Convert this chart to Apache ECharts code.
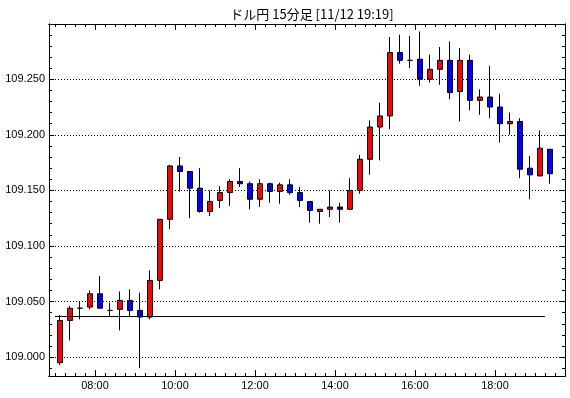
<!DOCTYPE html>
<html>
<head>
<meta charset="utf-8">
<script src="https://cdn.jsdelivr.net/npm/echarts@6/dist/echarts.min.js"></script>
<style>
    html, body { margin: 0; padding: 0; background: #fff; }
    #chart { width: 570px; height: 398px; }
</style>
</head>
<body>
<div id="chart"></div>
<script>
    // 15分足 (start time of each bar)
    const times = ['07:00','07:15','07:30','07:45','08:00','08:15','08:30','08:45','09:00','09:15',
        '09:30','09:45','10:00','10:15','10:30','10:45','11:00','11:15','11:30','11:45',
        '12:00','12:15','12:30','12:45','13:00','13:15','13:30','13:45','14:00','14:15',
        '14:30','14:45','15:00','15:15','15:30','15:45','16:00','16:15','16:30','16:45',
        '17:00','17:15','17:30','17:45','18:00','18:15','18:30','18:45','19:00','19:15'];
    const opens = [108.995,109.033,109.044,109.045,109.057,109.042,109.043,109.051,109.042,109.036,
        109.069,109.124,109.172,109.167,109.152,109.131,109.141,109.148,109.158,109.156,
        109.142,109.156,109.149,109.155,109.148,109.140,109.131,109.133,109.135,109.133,
        109.150,109.178,109.207,109.217,109.274,109.267,109.268,109.250,109.259,109.267,
        109.239,109.267,109.231,109.234,109.225,109.210,109.212,109.170,109.163,109.187];
    const closes = [109.033,109.044,109.044,109.057,109.044,109.042,109.051,109.042,109.036,109.069,
        109.124,109.172,109.167,109.152,109.131,109.140,109.148,109.158,109.156,109.142,
        109.156,109.149,109.155,109.148,109.141,109.132,109.133,109.135,109.133,109.150,
        109.178,109.207,109.217,109.274,109.267,109.267,109.250,109.259,109.267,109.238,
        109.267,109.231,109.234,109.225,109.210,109.212,109.169,109.164,109.188,109.165];
    const lows = [108.993,109.015,109.034,109.043,109.044,109.037,109.024,109.037,108.990,109.034,
        109.061,109.115,109.149,109.125,109.130,109.127,109.134,109.136,109.153,109.133,
        109.135,109.139,109.138,109.146,109.135,109.121,109.120,109.126,109.121,109.133,
        109.147,109.164,109.177,109.205,109.264,109.260,109.244,109.247,109.245,109.232,
        109.212,109.222,109.218,109.215,109.193,109.200,109.161,109.142,109.163,109.156];
    const highs = [109.038,109.046,109.050,109.060,109.073,109.049,109.059,109.061,109.058,109.078,
        109.124,109.173,109.180,109.167,109.170,109.150,109.154,109.160,109.170,109.158,
        109.160,109.157,109.157,109.160,109.153,109.140,109.133,109.150,109.139,109.161,
        109.182,109.213,109.229,109.288,109.290,109.289,109.293,109.272,109.279,109.284,
        109.278,109.272,109.241,109.262,109.237,109.220,109.215,109.181,109.204,109.187];

    const refPrice = 109.0365;
    const refFrom = '07:00';
    const refTo = '19:15';

    const priceTicks = [109.000, 109.050, 109.100, 109.150, 109.200, 109.250];
    const hourTicks = ['08:00', '10:00', '12:00', '14:00', '16:00', '18:00'];

    const xMin = 411, xMax = 1185;          // 06:51 .. 19:45 in minutes
    const yMin = 108.983, yMax = 109.2997;

    function toMin(t) {
        let p = t.split(':');
        return parseInt(p[0], 10) * 60 + parseInt(p[1], 10);
    }
    function fmtMin(v) {
        let h = Math.floor(v / 60), m = Math.round(v % 60);
        return (h < 10 ? '0' + h : h) + ':' + (m < 10 ? '0' + m : m);
    }

    let candles = times.map(function (t, i) {
        return [toMin(t) + 7.5, opens[i], closes[i], lows[i], highs[i]];
    });

    let majorX = hourTicks.map(toMin);
    let minorX = [];
    for (let m = 420; m <= xMax; m += 15) minorX.push(m);
    let minorY = [];
    for (let k = 99; k <= 129; k++) minorY.push(+(109 + (k - 100) / 100).toFixed(2));

    function timeAxis(position, ticks, len, showLabel) {
        return {
            type: 'value', position: position, min: xMin, max: xMax,
            axisLine: {show: true, onZero: false, lineStyle: {color: '#000', width: 1}},
            axisTick: {show: true, inside: true, length: len, customValues: ticks, lineStyle: {color: '#000', width: 1}},
            axisLabel: {
                show: showLabel, customValues: ticks, formatter: fmtMin, color: '#000',
                fontSize: 11, fontFamily: 'Liberation Sans', margin: 4
            },
            splitLine: {show: false}
        };
    }
    function priceAxis(position, ticks, len, showLabel, grid) {
        return {
            type: 'value', position: position, min: yMin, max: yMax, scale: true,
            axisLine: {show: true, onZero: false, lineStyle: {color: '#000', width: 1}},
            axisTick: {show: true, inside: true, length: len, customValues: ticks, lineStyle: {color: '#000', width: 1}},
            axisLabel: {
                show: showLabel, customValues: ticks, color: '#000', fontSize: 11, fontFamily: 'Liberation Sans', margin: 4,
                formatter: function (v) { return v.toFixed(3); }
            },
            splitLine: {show: grid, lineStyle: {color: '#000', width: 1, type: [1, 2]}}
        };
    }

    let chart = echarts.init(document.getElementById('chart'), null, {renderer: 'canvas'});
    let option = {
        animation: false,
        backgroundColor: '#fff',
        title: {
            text: 'ドル円 15分足 [11/12 19:19]',
            left: 307, top: 3, textAlign: 'center',
            textStyle: {fontSize: 13, fontWeight: 'normal', color: '#000', fontFamily: 'Noto Sans CJK JP'}
        },
        grid: {left: 49, right: 5, top: 24, bottom: 22, containLabel: false, outerBoundsMode: 'none'},
        xAxis: [
            timeAxis('bottom', majorX, 6, true),
            timeAxis('bottom', minorX, 3, false),
            timeAxis('top', majorX, 6, false),
            timeAxis('top', minorX, 3, false)
        ],
        yAxis: [
            priceAxis('left', priceTicks, 5, true, true),
            priceAxis('left', minorY, 3, false, false),
            priceAxis('right', priceTicks, 5, false, false),
            priceAxis('right', minorY, 3, false, false)
        ],
        series: [{
            type: 'candlestick',
            xAxisIndex: 0, yAxisIndex: 0,
            barWidth: 6,
            data: candles,
            itemStyle: {
                color: '#ff0000', color0: '#0000ff',
                borderColor: '#000', borderColor0: '#000', borderColorDoji: '#000',
                borderWidth: 1
            }
        }, {
            type: 'line',
            xAxisIndex: 0, yAxisIndex: 0,
            symbol: 'none', silent: true,
            data: [[toMin(refFrom), refPrice], [toMin(refTo), refPrice]],
            lineStyle: {color: '#000', width: 1}
        }]
    };
    chart.setOption(option);
</script>
</body>
</html>
